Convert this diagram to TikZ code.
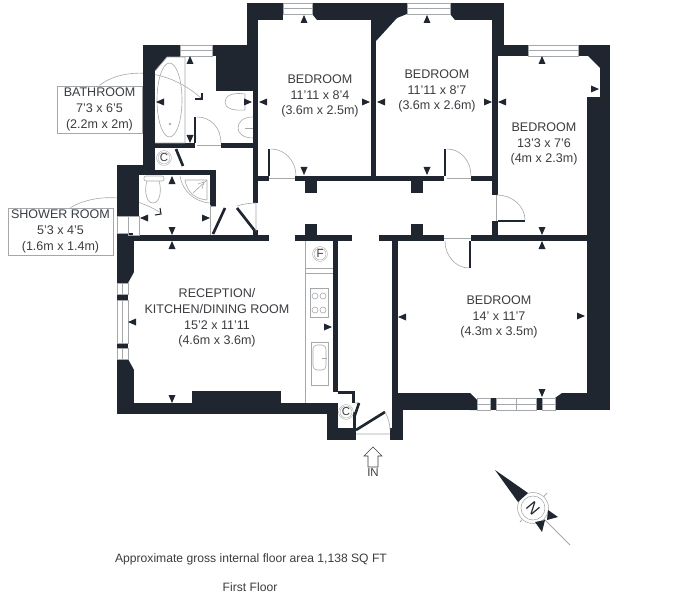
\documentclass[tikz,border=0pt]{standalone}
\usepackage{fontspec}
\setmainfont{Liberation Sans}
\usepackage{xcolor}
\usetikzlibrary{calc}
\definecolor{WallDark}{RGB}{31, 38, 48}
\definecolor{TextDark}{RGB}{58, 60, 64}
\definecolor{LineGrey}{RGB}{165, 168, 170}
\tikzset{
	wall/.style={fill=WallDark, draw=none},
	fixture/.style={draw=LineGrey, line width=0.45pt},
	leaf/.style={draw=WallDark, line width=2pt},
	roomlabel/.style={font=\fontsize{9.4}{11.7}\selectfont, text=TextDark, align=center, inner sep=0pt},
	notebox/.style={roomlabel, draw=LineGrey, line width=0.45pt},
	ringlabel/.style={draw=LineGrey, double=white, double distance=0.6pt, circle, minimum size=10pt, inner sep=0pt, font=\fontsize{8.6}{9}\selectfont, text=TextDark},
	caption/.style={inner sep=0pt, font=\fontsize{9.1}{11}\selectfont, text=TextDark},
}
\begin{document}
\begin{tikzpicture}[x=0.75pt, y=-0.75pt]
	\useasboundingbox (0,0) rectangle (680,595);

	% notes and their callouts lie under the walls
	\node[notebox, minimum width=64pt, minimum height=35.5pt] (bathroom) at (99.5,109.5) {BATHROOM\\7'3 x 6'5\\(2.2m x 2m)};
	\node[notebox, minimum width=79pt, minimum height=35.5pt] (shower) at (60.5,231.5) {SHOWER ROOM\\5'3 x 4'5\\(1.6m x 1.4m)};
	\coordinate (bathtip) at (201,98);
	\coordinate (showertip) at (161,213);
	\draw[fixture] (bathroom.north) .. controls (115,72) and (160,62) .. (bathtip);
	\draw[fixture] (shower.north) ++(10,0) .. controls (88,197) and (125,190) .. (showertip);

	% plain wall pieces
	\foreach \xa/\ya/\xb/\yb in {
		143/45/155/165, 155/45/180/57, 212/45/216/56, 216/45/258/91, 247/3/258/91,
		253/91/258/203, 258/3/283/20, 312/3/371/14, 317/14/371/20, 371/14/376/176,
		371/3/407/14, 450/3/504/14, 455/14/504/20, 492/20/504/45, 492/45/498/195,
		498/45/528/56, 578/45/610/56, 600/56/610/97, 587/97/610/410,
		155/143/195/148, 221/143/253/148, 117/165/155/170, 117/170/216/175,
		117/175/139/216, 210/175/216/206, 253/230/258/236, 117/233/133/241,
		128/235/269/241, 295/235/352/241, 379/235/444/241, 471/235/587/241,
		258/176/269/181, 295/176/444/181, 471/176/492/181,
		305/180/317/193, 411/180/423/193, 305/224/317/235, 411/224/423/235,
		492/221/498/235, 392/235/398/393, 333/241/338/392,
		117/241/134/272, 117/241/128/283, 117/294/128/300, 117/343/128/348, 117/359/128/414,
		128/370/134/403, 117/403/333/414, 192/391/281/403,
		327/403/338/440, 327/428/356/440, 338/391/355/394, 352/391/355/403, 353/412/356/428,
		392/393/470/410, 392/410/403/440, 390/428/403/440, 555/400/610/410, 562/393/587/400,
		490/398/496/410, 536/398/542/410}
		\fill[wall] (\xa,\ya) rectangle (\xb,\yb);

	% chamfers in the window reveals
	\fill[wall] (155,57) -- (167,57) -- (155,71) -- cycle;
	\fill[wall] (376,41) -- (376,14) -- (407,14) -- (397,18) -- cycle;
	\fill[wall] (578,56) -- (588,56) -- (600,68) -- (600,56) -- cycle;
	\fill[wall] (128,283) -- (128,272) -- (134,272) -- cycle;
	\fill[wall] (128,359) -- (128,370) -- (134,370) -- cycle;
	\fill[wall] (470,393) -- (470,410) -- (477,410) -- (477,400) -- cycle;
	\fill[wall] (555,398) -- (555,410) -- (562,400) -- (562,393) -- cycle;
	\fill[wall] (312,14) -- (317,14) -- (317,20) -- cycle;
	\fill[wall] (450,14) -- (455,14) -- (455,20) -- cycle;

	% windows
	\foreach \xa/\xb/\ya/\yb in {283/312/3/14, 407/450/3/14, 180/212/45/56, 528/578/45/56, 477/490/398/410, 496/536/398/410, 542/555/398/410}
		\draw[fixture] (\xa,\ya) rectangle (\xb,\yb) (\xa,{(\ya+\yb)/2}) -- (\xb,{(\ya+\yb)/2});
	\draw[fixture] (516,398) -- (516,410);
	\foreach \ya/\yb in {283/294, 300/343, 348/359}
		\draw[fixture] (117,\ya) rectangle (128,\yb);
	\draw[fixture] (117,216) rectangle (128,233) (128,216) rectangle (139,235);
	\draw[fixture] (122,283) -- (122,294) (122,300) -- (122,343) (122,348) -- (122,359);

	% door leaves and swings
	\foreach \xa/\ya/\xb/\yb in {195/117/195/143, 269/149/269/176, 445/149/445/176, 470/241/470/268}
		\draw[leaf] (\xa,\ya) -- (\xb,\yb);
	\draw[leaf] (498,221) -- (525,221);
	\draw[fixture] (197,117) .. controls (211,117) and (221,128) .. (221,143);
	\draw[fixture] (271,149) .. controls (285,149) and (296,161) .. (296,176);
	\draw[fixture] (447,149) .. controls (461,149) and (471,161) .. (471,176);
	\draw[fixture] (497,195) .. controls (512,195) and (525,206) .. (525,220);
	\draw[fixture] (469,268) .. controls (456,268) and (445,256) .. (445,241);
	\draw[fixture] (197,145) -- (221,145) (269,178) -- (295,178) (447,178) -- (471,178) (444,238) -- (471,238) (496,195) -- (496,221);
	\draw[leaf] (176,149) -- (183,166);
	\draw[leaf] (213,234) -- (225,208);
	\draw[leaf] (237,208) -- (255,231);
	\draw[fixture] (237,206) .. controls (243,204) and (250,203) .. (256,203) -- (256,231);
	\draw[fixture] (210,205) -- (210,235) (210,206) -- (216,206);
	\draw[fixture] (180,176) .. controls (182,190) and (194,202) .. (210,203);
	\draw[leaf] (356,430) -- (385,412);
	\draw[fixture] (355,413) -- (359,403) -- (355,403);
	\draw[leaf] (354,418) -- (359,403);
	\draw[fixture] (356,434) -- (390,434) (385,412) .. controls (388,417) and (390,424) .. (390,430);

	% bath, shower, toilets
	\draw[fixture] (155,71) -- (167,57) -- (185,57) -- (185,143) -- (155,143);
	\draw[fixture] (169.5,100) ellipse (12.5 and 37);
	\draw[fixture] (170,124) circle (1);
	\draw[fixture] (185,56) -- (212,56);
	\draw[fixture] (185,180) -- (207,180) -- (207,200) .. controls (195,199) and (187,192) .. (185,180) -- cycle;
	\draw[fixture] (207,180) -- (193,193) (204,182) -- (198,184) (204,182) -- (202,189);
	\draw[fixture, rounded corners=1.5pt] (144,176) rectangle (164,181);
	\draw[fixture] (147,181) .. controls (144,190) and (146,203) .. (153,203) .. controls (160,203) and (162,190) .. (159,181);
	\draw[fixture] (245,94) -- (245,110) (245,94) .. controls (232,92) and (225,96) .. (225,102) .. controls (225,108) and (232,111) .. (245,110);
	\draw[fixture] (253,117) .. controls (243,117) and (238,122) .. (238,128) .. controls (238,133) and (243,138) .. (253,138);
	\draw[fixture] (245,128) -- (253,128);

	% kitchen units
	\draw[fixture] (305,241) -- (305,403) (305,268) -- (333,268) (305,273) -- (333,273);
	\draw[fixture] (310,288) rectangle (328,317);
	\foreach \px/\py in {315/296, 323/296, 315/310, 323/310}
		\draw[fixture] (\px,\py) circle (3);
	\draw[fixture] (311,342) rectangle (328,385);
	\draw[fixture, rounded corners=3pt] (313,345) rectangle (326,370);
	\draw[fixture] (322,358) -- (327,358);

	% measuring marks
	\foreach \px/\py in {190/60, 304/19, 172/180, 172/245, 427/19, 542/60, 542/245}
		\fill[wall] (\px,\py-4) -- (\px-3.5,\py+4) -- (\px+3.5,\py+4) -- cycle;
	\foreach \px/\py in {190/139, 304/171, 172/231, 427/171, 542/231, 172/399, 542/393}
		\fill[wall] (\px,\py+4) -- (\px-3.5,\py-4) -- (\px+3.5,\py-4) -- cycle;
	\foreach \px/\py in {160/102, 263/102, 144/218, 381/102, 502/102, 132/322, 402/317}
		\fill[wall] (\px-4,\py) -- (\px+4,\py-3.5) -- (\px+4,\py+3.5) -- cycle;
	\foreach \px/\py in {248/102, 206/218, 366/102, 488/102, 595/89, 328/327, 581/316}
		\fill[wall] (\px+4,\py) -- (\px-4,\py-3.5) -- (\px-4,\py+3.5) -- cycle;

	% appliance letters
	\node[ringlabel] (fridge) at (320,254) {F};
	\node[ringlabel] (boilerA) at (164,158) {C};
	\node[ringlabel] (boilerB) at (346,412) {C};

	% room names
	\node[roomlabel] (bedA) at (320,96) {BEDROOM\\11'11 x 8'4\\(3.6m x 2.5m)};
	\node[roomlabel] (bedB) at (437,91) {BEDROOM\\11'11 x 8'7\\(3.6m x 2.6m)};
	\node[roomlabel] (bedC) at (544,144) {BEDROOM\\13'3 x 7'6\\(4m x 2.3m)};
	\node[roomlabel] (bedD) at (499,317) {BEDROOM\\14' x 11'7\\(4.3m x 3.5m)};
	\node[roomlabel] (reception) at (217,318) {RECEPTION/\\KITCHEN/DINING ROOM\\15'2 x 11'11\\(4.6m x 3.6m)};

	% callout corners
	\draw[WallDark, line width=0.8pt] (195,99) -- (202,99) -- (202,93);
	\draw[WallDark, line width=0.8pt] (155,215) -- (161,214) -- (160,208);

	% entrance
	\node[inner sep=0pt, font=\fontsize{8.6}{10}\selectfont, text=TextDark] (entry) at (373,473) {IN};
	\draw[TextDark, fill=white, line width=0.4pt] (373,447) -- (364,456) -- (368,456) -- (368,467) -- (378,467) -- (378,456) -- (382,456) -- cycle;

	% compass
	\coordinate (compass) at (533,508);
	\draw[LineGrey, line width=0.6pt] (520,522) -- (547,493) (compass) -- (570,545);
	\draw[fill=white, draw=LineGrey] (compass) circle (15.5);
	\draw[LineGrey] (compass) circle (12);
	\fill[wall] (495,470) -- (528,493) -- (518,502) -- cycle;
	\fill[wall] (548,510) -- (558,517) -- (547,520) -- cycle;
	\fill[wall] (535,522) -- (542,532) -- (545,520) -- cycle;
	\node[rotate=-50, inner sep=0pt, font=\fontsize{12}{12}\selectfont, text=WallDark] (north) at (compass) {N};

	% captions
	\node[caption] (area) at (251,559) {Approximate gross internal floor area 1,138 SQ FT};
	\node[caption] (floor) at (250,587) {First Floor};
\end{tikzpicture}
\end{document}
